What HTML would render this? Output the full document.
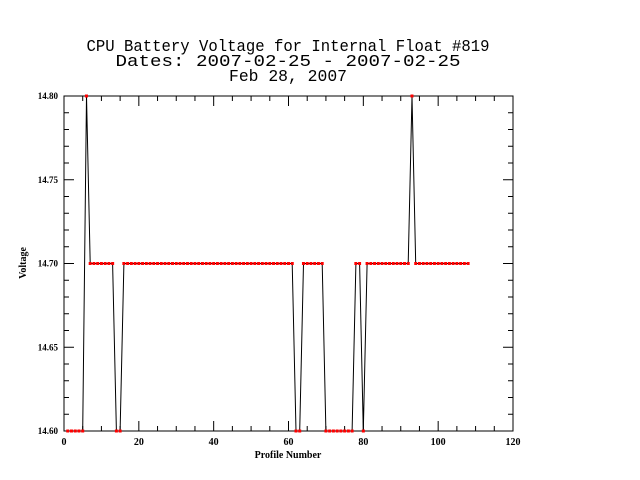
<!DOCTYPE html>
<html><head><meta charset="utf-8"><style>html,body{margin:0;padding:0;background:#fff}svg{display:block}</style></head>
<body>
<svg id="chart" width="640" height="480" xmlns="http://www.w3.org/2000/svg" font-family="Liberation Serif, serif">
<rect width="640" height="480" fill="#fff"/>
<g font-family="Liberation Mono, monospace" font-size="17" text-anchor="middle" fill="#000">
<text x="288" y="51" textLength="403" lengthAdjust="spacingAndGlyphs">CPU Battery Voltage for Internal Float #819</text>
<text x="288" y="66" textLength="345" lengthAdjust="spacingAndGlyphs">Dates:  2007-02-25 -  2007-02-25</text>
<text x="288" y="81" textLength="118" lengthAdjust="spacingAndGlyphs">Feb 28, 2007</text>
</g>
<rect x="64" y="96" width="449" height="335" fill="none" stroke="#000" stroke-width="1"/>
<g id="axes"></g>
<g id="series"></g>
<text x="288" y="458" font-size="10" font-weight="bold" text-anchor="middle">Profile Number</text>
<text transform="translate(26,263) rotate(-90)" font-size="10" font-weight="bold" text-anchor="middle">Voltage</text>
</svg>
<script>
const profiles = [1,2,3,4,5,6,7,8,9,10,11,12,13,14,15,16,17,18,19,20,21,22,23,24,25,26,27,28,29,30,31,32,33,34,35,36,37,38,39,40,41,42,43,44,45,46,47,48,49,50,51,52,53,54,55,56,57,58,59,60,61,62,63,64,65,66,67,68,69,70,71,72,73,74,75,76,77,78,79,80,81,82,83,84,85,86,87,88,89,90,91,92,93,94,95,96,97,98,99,100,101,102,103,104,105,106,107,108];
const voltages = [14.6,14.6,14.6,14.6,14.6,14.8,14.7,14.7,14.7,14.7,14.7,14.7,14.7,14.6,14.6,
14.7,14.7,14.7,14.7,14.7,14.7,14.7,14.7,14.7,14.7,14.7,14.7,14.7,14.7,14.7,14.7,14.7,14.7,14.7,14.7,14.7,14.7,14.7,14.7,14.7,14.7,14.7,14.7,14.7,14.7,14.7,14.7,14.7,14.7,14.7,14.7,14.7,14.7,14.7,14.7,14.7,14.7,14.7,14.7,14.7,14.7,
14.6,14.6,14.7,14.7,14.7,14.7,14.7,14.7,
14.6,14.6,14.6,14.6,14.6,14.6,14.6,14.6,
14.7,14.7,14.6,
14.7,14.7,14.7,14.7,14.7,14.7,14.7,14.7,14.7,14.7,14.7,14.7,
14.8,
14.7,14.7,14.7,14.7,14.7,14.7,14.7,14.7,14.7,14.7,14.7,14.7,14.7,14.7,14.7];
const xTicks = [0,20,40,60,80,100,120];
const yTicks = [14.60,14.65,14.70,14.75,14.80];
const yTickLabels = ["14.60","14.65","14.70","14.75","14.80"];
const X0=64,X1=513,Y0=431,Y1=96;
const xs = v => X0 + (v-0)/(120-0)*(X1-X0);
const ys = v => Y0 - (v-14.6)/(14.8-14.6)*(Y0-Y1);
const NS="http://www.w3.org/2000/svg";
const axes=document.getElementById('axes'), series=document.getElementById('series');
function mk(tag,attrs,parent){const e=document.createElementNS(NS,tag);for(const k in attrs)e.setAttribute(k,attrs[k]);parent.appendChild(e);return e;}
// x ticks
for(let v=0;v<=120;v+=5){
  const major = v%20===0, len = major?10:5, x=xs(v);
  const t1=mk('line',{x1:x,x2:x,y1:Y0,y2:Y0-len,stroke:'#000'},axes);
  
  
  const t2=mk('line',{x1:x,x2:x,y1:Y1,y2:Y1+len,stroke:'#000'},axes);
  
  
}
xTicks.forEach(v=>{
  const t=mk('text',{x:xs(v),y:445,'font-size':10,'text-anchor':'middle','font-weight':'bold'},axes);
  t.textContent=v;
  
  
});
for(let i=0;i<=20;i++){
  const v=14.6+i*0.01, major=i%5===0, len=major?10:5, y=ys(v);
  const t1=mk('line',{x1:X0,x2:X0+len,y1:y,y2:y,stroke:'#000'},axes);
  
  
  const t2=mk('line',{x1:X1,x2:X1-len,y1:y,y2:y,stroke:'#000'},axes);
  
  
}
yTicks.forEach((v,i)=>{
  const t=mk('text',{x:58,y:ys(v)+3,'font-size':9,'text-anchor':'end','font-weight':'bold'},axes);
  t.textContent=yTickLabels[i];
  
  
});
const pts=profiles.map((p,i)=>xs(p).toFixed(1)+','+ys(voltages[i]).toFixed(1)).join(' ');
const line=mk('polyline',{points:pts,fill:'none',stroke:'#000','stroke-width':1},series);


profiles.forEach((p,i)=>{
  const c=mk('rect',{x:xs(p)-1.5,y:ys(voltages[i])-1.5,width:3,height:3,fill:'#ff0000'},series);
  
  
});
</script>
</body></html>
